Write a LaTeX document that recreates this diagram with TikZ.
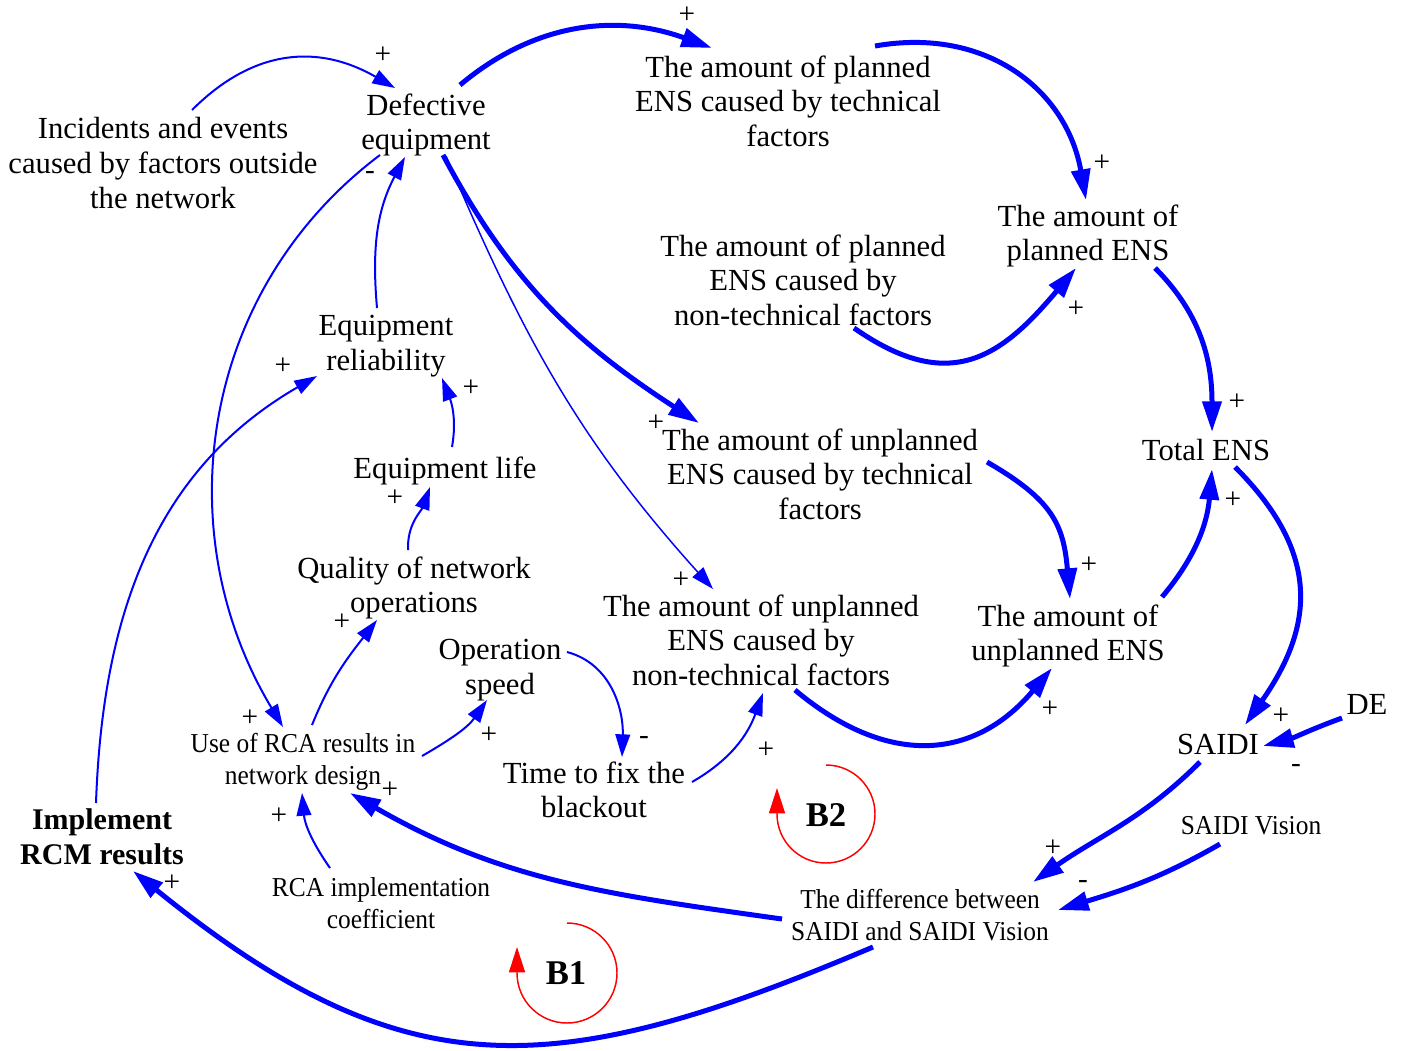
\documentclass[tikz,border=0pt]{standalone}
\usepackage{fontspec}
\setmainfont{Liberation Serif}
\newfontfamily\condensed[FakeStretch=0.93]{Liberation Serif}
\usetikzlibrary{arrows.meta}

\begin{document}
\begin{tikzpicture}[x=0.75pt,y=0.75pt,
  var/.style={inner sep=0pt, align=center, font=\fontsize{23}{25.9}\selectfont},
  smallvar/.style={inner sep=0pt, align=center, font=\condensed\fontsize{20.5}{24}\selectfont},
  keyvar/.style={inner sep=0pt, align=center, font=\bfseries\fontsize{22.5}{25.9}\selectfont},
  sign/.style={inner sep=0pt, font=\fontsize{22}{22}\selectfont},
  link/.style={draw=blue, line width=1.5pt, -{Triangle[length=17pt,width=11pt]}},
  faint/.style={link, line width=1.1pt},
  strong/.style={draw=blue, line width=3.75pt, -{Triangle[length=23pt,width=14pt]}},
  looplabel/.style={inner sep=0pt, font=\bfseries\fontsize{26}{26}\selectfont},
  loopline/.style={draw=red, line width=1.1pt, -{Triangle[length=19pt,width=12pt]}},
]
\useasboundingbox (0,0) rectangle (1401,-1050);

% variables
\node[var] (inc)   at (163,-163)  {Incidents and events\\caused by factors outside\\the network};
\node[var] (def)   at (426,-125)  {Defective\\equipment};
\node[var] (ptech) at (788,-101)  {The amount of planned\\ENS caused by technical\\factors};
\node[var] (pens)  at (1088,-236) {The amount of\\planned ENS};
\node[var] (pnon)  at (803,-280)  {The amount of planned\\ENS caused by\\non-technical factors};
\node[var] (rel)   at (386,-346)  {Equipment\\reliability};
\node[var] (utech) at (820,-474)  {The amount of unplanned\\ENS caused by technical\\factors};
\node[var] (tens)  at (1206,-450) {Total ENS};
\node[var] (life)  at (445,-471)  {Equipment life};
\node[var] (qual)  at (414,-588)  {Quality of network\\operations};
\node[var] (unon)  at (761,-640)  {The amount of unplanned\\ENS caused by\\non-technical factors};
\node[var] (uens)  at (1068,-636) {The amount of\\unplanned ENS};
\node[var] (speed) at (500,-670)  {Operation\\speed};
\node[smallvar] (rca) at (303,-762) {Use of RCA results in\\network design};
\node[var] (saidi) at (1218,-744) {SAIDI};
\node[var] (de)    at (1367,-704) {DE};
\node[var] (fix)   at (594,-790)  {Time to fix the\\blackout};
\node[keyvar] (impl) at (102,-837) {Implement\\RCM results};
\node[smallvar] (coef) at (381,-903) {RCA implementation\\coefficient};
\node[smallvar] (vis)  at (1251,-826) {SAIDI Vision};
\node[smallvar] (diff) at (920,-915) {The difference between\\SAIDI and SAIDI Vision};

% causal links
\draw[link]   ([shift={(29,53)}]inc.center)    to[out=45,in=150,looseness=1.1] ([shift={(-31,37)}]def.center);
\draw[strong] ([shift={(34,40)}]def.center)    to[out=40,in=160]               ([shift={(-76,53)}]ptech.center);
\draw[strong] ([shift={(87,55)}]ptech.center)  to[out=10,in=100,looseness=1.1] ([shift={(-2,36)}]pens.center);
\draw[strong] ([shift={(51,-48)}]pnon.center)  to[out=-35,in=230,looseness=1.3] ([shift={(-12,-32)}]pens.center);
\draw[strong] ([shift={(67,-32)}]pens.center)  to[out=-45,in=90]               ([shift={(6,18)}]tens.center);
\draw[strong] ([shift={(17,-30)}]def.center)   to[out=-62,in=147]              ([shift={(-121,51)}]utech.center);
\draw[faint]  ([shift={(20,-31)}]def.center)   to[out=-67,in=132]              ([shift={(-48,51)}]unon.center);
\draw[strong] ([shift={(167,12)}]utech.center) to[out=-30,in=95,looseness=1.2] ([shift={(2,37)}]uens.center);
\draw[strong] ([shift={(34,-50)}]unon.center)  to[out=-40,in=230,looseness=1.2] ([shift={(-16,-32)}]uens.center);
\draw[strong] ([shift={(94,39)}]uens.center)   to[out=50,in=-95]               ([shift={(6,-19)}]tens.center);
\draw[strong] ([shift={(29,-17)}]tens.center)  to[out=-45,in=55,looseness=1.2] ([shift={(27,19)}]saidi.center);
\draw[strong] ([shift={(-25,-14)}]de.center)   to[out=200,in=15]               ([shift={(45,-2)}]saidi.center);
\draw[strong] ([shift={(-18,-18)}]saidi.center) to[out=225,in=35]              ([shift={(113,33)}]diff.center);
\draw[strong] ([shift={(-31,-18)}]vis.center)  to[out=210,in=17]               ([shift={(138,5)}]diff.center);
\draw[strong] ([shift={(-138,-4)}]diff.center) to[out=172,in=-30]              ([shift={(47,-31)}]rca.center);
\draw[strong] ([shift={(-47,-32)}]diff.center) to[out=-157,in=-39,looseness=1.2] ([shift={(31,-34)}]impl.center);
\draw[link]   ([shift={(-6,34)}]impl.center)   to[out=88,in=210]               ([shift={(-69,-30)}]rel.center);
\draw[link]   ([shift={(-46,-30)}]def.center)  to[out=217,in=121]              ([shift={(-20,35)}]rca.center);
\draw[link]   ([shift={(-9,38)}]rel.center)    to[out=95,in=-118]              ([shift={(-21,-32)}]def.center);
\draw[link]   ([shift={(7,24)}]life.center)    to[out=80,in=-69]               ([shift={(56,-32)}]rel.center);
\draw[link]   ([shift={(-6,38)}]qual.center)   to[out=92,in=-110]              ([shift={(-15,-16)}]life.center);
\draw[link]   ([shift={(9,37)}]rca.center)     to[out=68,in=232]               ([shift={(-37,-32)}]qual.center);
\draw[link]   ([shift={(119,6)}]rca.center)    to[out=30,in=235]               ([shift={(-13,-30)}]speed.center);
\draw[link]   ([shift={(67,18)}]speed.center)  to[out=-15,in=88]               ([shift={(28,33)}]fix.center);
\draw[link]   ([shift={(98,8)}]fix.center)     to[out=30,in=250]               ([shift={(2,-53)}]unon.center);
\draw[link]   ([shift={(-51,35)}]coef.center)  to[out=125,in=275]              ([shift={(-1,-31)}]rca.center);

% link polarities
\node[sign] (s1)  at (383,-55)   {+};
\node[sign] (s2)  at (687,-15)   {+};
\node[sign] (s3)  at (1102,-163) {+};
\node[sign] (s4)  at (1076,-309) {+};
\node[sign] (s5)  at (1237,-402) {+};
\node[sign] (s6)  at (656,-423)  {+};
\node[sign] (s7)  at (681,-580)  {+};
\node[sign] (s8)  at (1089,-565) {+};
\node[sign] (s9)  at (1050,-709) {+};
\node[sign] (s10) at (1233,-500) {+};
\node[sign] (s11) at (1281,-716) {+};
\node[sign] (s12) at (1296,-768) {-};
\node[sign] (s13) at (1053,-848) {+};
\node[sign] (s14) at (1083,-884) {-};
\node[sign] (s15) at (390,-790)  {+};
\node[sign] (s16) at (172,-883)  {+};
\node[sign] (s17) at (283,-366)  {+};
\node[sign] (s18) at (250,-718)  {+};
\node[sign] (s19) at (370,-175)  {-};
\node[sign] (s20) at (471,-388)  {+};
\node[sign] (s21) at (395,-498)  {+};
\node[sign] (s22) at (342,-622)  {+};
\node[sign] (s23) at (489,-735)  {+};
\node[sign] (s24) at (644,-740)  {-};
\node[sign] (s25) at (766,-750)  {+};
\node[sign] (s26) at (279,-816)  {+};

% balancing loops
\node[looplabel] (b1) at (566,-973) {B1};
\draw[loopline] ([shift={(1,50)}]b1.center) arc[start angle=90,end angle=-180,radius=50] -- ++(0,26);
\node[looplabel] (b2) at (826,-815) {B2};
\draw[loopline] ([shift={(0,50)}]b2.center) arc[start angle=90,end angle=-180,radius=49] -- ++(0,26);
\end{tikzpicture}
\end{document}
